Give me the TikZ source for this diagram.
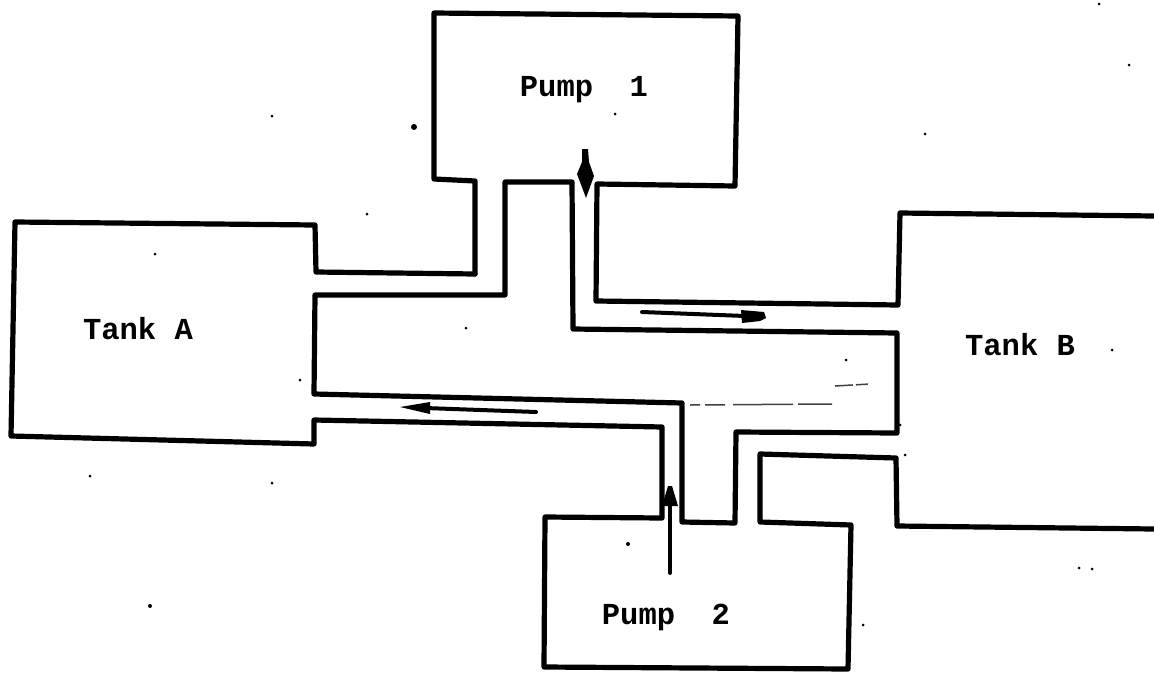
\documentclass[tikz,border=0pt]{standalone}
\usepackage{fontspec}
\setmonofont{Liberation Mono}
\begin{document}
\begin{tikzpicture}[x=1pt,y=-1pt,
  wall/.style={draw=black,line width=5.2pt,line join=round,line cap=round},
  flow/.style={draw=black,line width=4pt,line cap=round},
  faint/.style={draw=black!75,line width=1.5pt},
  label text/.style={font=\ttfamily\bfseries\fontsize{30.5}{32}\selectfont,text=black,inner sep=0pt},
  speck/.style={fill=black,draw=none}]
\useasboundingbox (0,0) rectangle (1154,675);
\fill[white] (0,0) rectangle (1154,675);
% Outer walls
\draw[wall] (475,274) -- (475,181) -- (434,179) -- (434,13) -- (738,16) -- (735,186) -- (597,184) -- (596,301) -- (898,305) -- (900,213) -- (1154,216);
\draw[wall] (475,274) -- (316,272) -- (315,225) -- (15,222) -- (11,436) -- (314,444) -- (314,420) -- (662,427) -- (662,518) -- (545,517) -- (544,667) -- (848,669) -- (851,525) -- (760,522) -- (760,454) -- (896,458) -- (897,526) -- (1154,529);
% Inner channel
\draw[wall] (572,182) -- (505,182) -- (505,295) -- (315,295) -- (314,394) -- (682,403) -- (682,522) -- (735,523) -- (736,432) -- (897,433) -- (897,333) -- (573,329) -- cycle;
% Flow arrows
\fill[black] (582,149) -- (588,149) -- (589,162) -- (594,176) -- (586,198) -- (577,174) -- (582,162) -- cycle;
\draw[flow] (642,312) -- (745,316);
\fill[black] (741,310) -- (764,312) -- (766,318) -- (760,321) -- (742,323) -- cycle;
\draw[flow] (536,412) -- (425,408);
\fill[black] (400,407) -- (430,402) -- (430,414) -- cycle;
\draw[flow] (670,573) -- (670,500);
\fill[black] (668,486) -- (672,486) -- (678,506) -- (662,506) -- cycle;
\draw[faint,dash pattern=on 10pt off 5pt on 20pt off 8pt on 60pt off 5pt on 35pt off 4pt] (690,405) -- (832,404);
\draw[faint,dash pattern=on 18pt off 3pt on 12pt off 3pt] (835,386) -- (870,384);
\node[label text] (p1) at (584,90) {Pump\ \ 1};
\node[label text] (ta) at (138,329) {Tank A};
\node[label text] (tb) at (1020,345) {Tank B};
\node[label text] (p2) at (666,617) {Pump\ \ 2};
\foreach \x/\y/\r in {414/127/3,1099/4/1.5,1129/65/1.5,272/116/1.5,615/114/1.5,925/134/1.5,367/214/1.5,155/254/1.5,466/328/1.5,846/360/1.5,1112/350/1.5,90/476/1.5,272/483/1.5,150/606/2,628/544/2,1079/568/1.5,1092/569/1.5,863/625/1.5,905/455/1.5,300/380/1.5,900/425/1.5}
  \fill[speck] (\x,\y) circle (\r);
\end{tikzpicture}
\end{document}
